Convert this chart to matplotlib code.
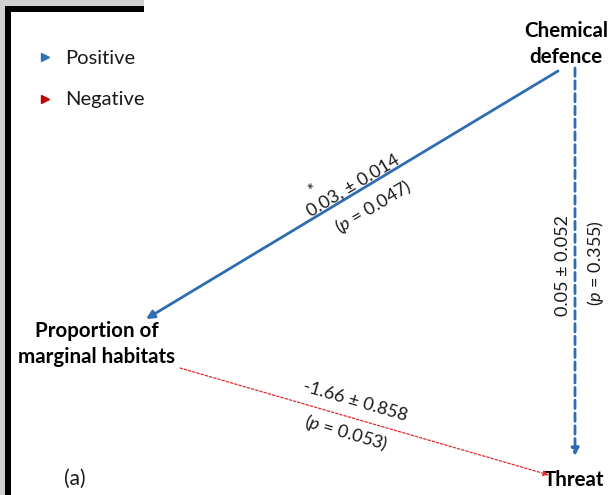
import numpy as np
import matplotlib
matplotlib.use("Agg")
import matplotlib.pyplot as plt
from matplotlib.patches import Rectangle

plt.rcParams["font.family"] = ["Lato", "DejaVu Sans"]
plt.rcParams["mathtext.fontset"] = "custom"
plt.rcParams["mathtext.it"] = "Lato:italic"
plt.rcParams["mathtext.rm"] = "Lato"

# path model: node names and the three estimated effects
nodes = ["Chemical\ndefence", "Proportion of\nmarginal habitats", "Threat"]
paths = [("Chemical\ndefence", "Proportion of\nmarginal habitats"),
         ("Chemical\ndefence", "Threat"),
         ("Proportion of\nmarginal habitats", "Threat")]
estimates = ["0.03,", "0.05", "-1.66"]
std_errs = ["0.014", "0.052", "0.858"]
p_values = ["0.047", "0.355", "0.053"]
significant = [True, False, False]
legend_labels = ["Positive", "Negative"]

BLUE = "#2e6db4"
RED = "#e02a2a"
TXT = "#1a1a1a"

W, H = 611, 495
fig = plt.figure(figsize=(W / 100, H / 100), dpi=100)
ax = fig.add_axes([0, 0, 1, 1])
ax.set_xlim(0, W)
ax.set_ylim(H, 0)
ax.axis("off")

# frame pieces around the top-left corner
ax.add_patch(Rectangle((0, 0), 5, H, color="#d0d0d0", lw=0))
ax.add_patch(Rectangle((0, 0), 144, 6, color="#d0d0d0", lw=0))
ax.add_patch(Rectangle((5, 6), 6, H, color="black", lw=0))
ax.add_patch(Rectangle((5, 6), 139, 6, color="black", lw=0))

# node labels
node_pos = {nodes[0]: (566, 44), nodes[1]: (97, 344), nodes[2]: (574, 480)}
for n in nodes:
    x, y = node_pos[n]
    ax.text(x, y, n, ha="center", va="center", fontsize=14.8,
            fontweight="bold", color="black", linespacing=1.32)

# arrow geometry (tail, head)
arrow_ends = [((558, 71), (146, 319)),
              ((575, 68), (575, 456)),
              ((180, 368), (549, 475))]
arrow_styles = [dict(color=BLUE, lw=2.0, ls="-", mscale=12),
                dict(color=BLUE, lw=2.0, ls=(0, (3, 1.6)), mscale=11),
                dict(color=RED, lw=0.9, ls=(0, (2, 1.5)), mscale=8)]
for (t, h), st in zip(arrow_ends, arrow_styles):
    ax.annotate("", xy=h, xytext=t,
                arrowprops=dict(arrowstyle="-|>", color=st["color"], lw=st["lw"],
                                linestyle=st["ls"], mutation_scale=st["mscale"],
                                shrinkA=0, shrinkB=0))


def angle(t, h):
    # screen angle of a segment, y pointing down
    (x0, y0), (x1, y1) = t, h
    a = np.degrees(np.arctan2(y0 - y1, x1 - x0))
    if a > 90:
        a -= 180
    elif a < -90:
        a += 180
    return a


# effect labels: estimate line and p-value line
est_pos = [(353, 186), (563, 265), (355, 401)]
p_pos = [(373, 207), (595, 263), (346, 433)]
for i in range(3):
    a = angle(*arrow_ends[i])
    if i == 1:
        a = 90
    ax.text(*est_pos[i], f"{estimates[i]} ± {std_errs[i]}", rotation=a,
            rotation_mode="anchor", ha="center", va="center",
            fontsize=13, color=TXT)
    ax.text(*p_pos[i], f"($p$ = {p_values[i]})", rotation=a,
            rotation_mode="anchor", ha="center", va="center",
            fontsize=13, color=TXT)
    if significant[i]:
        ax.text(313, 190, "*", rotation=a, rotation_mode="anchor",
                ha="center", va="center", fontsize=13, color=TXT)

# legend
for lab, col, y in zip(legend_labels, ["#2e75b6", "#c00000"], [57, 99]):
    ax.plot(45, y, marker=">", color=col, markersize=5.5, ls="none")
    ax.text(65, y + 1, lab, ha="left", va="center", fontsize=14.5, color=TXT)

ax.text(75, 479, "(a)", ha="center", va="center", fontsize=15, color=TXT)

fig.savefig("out.png", dpi=100)
